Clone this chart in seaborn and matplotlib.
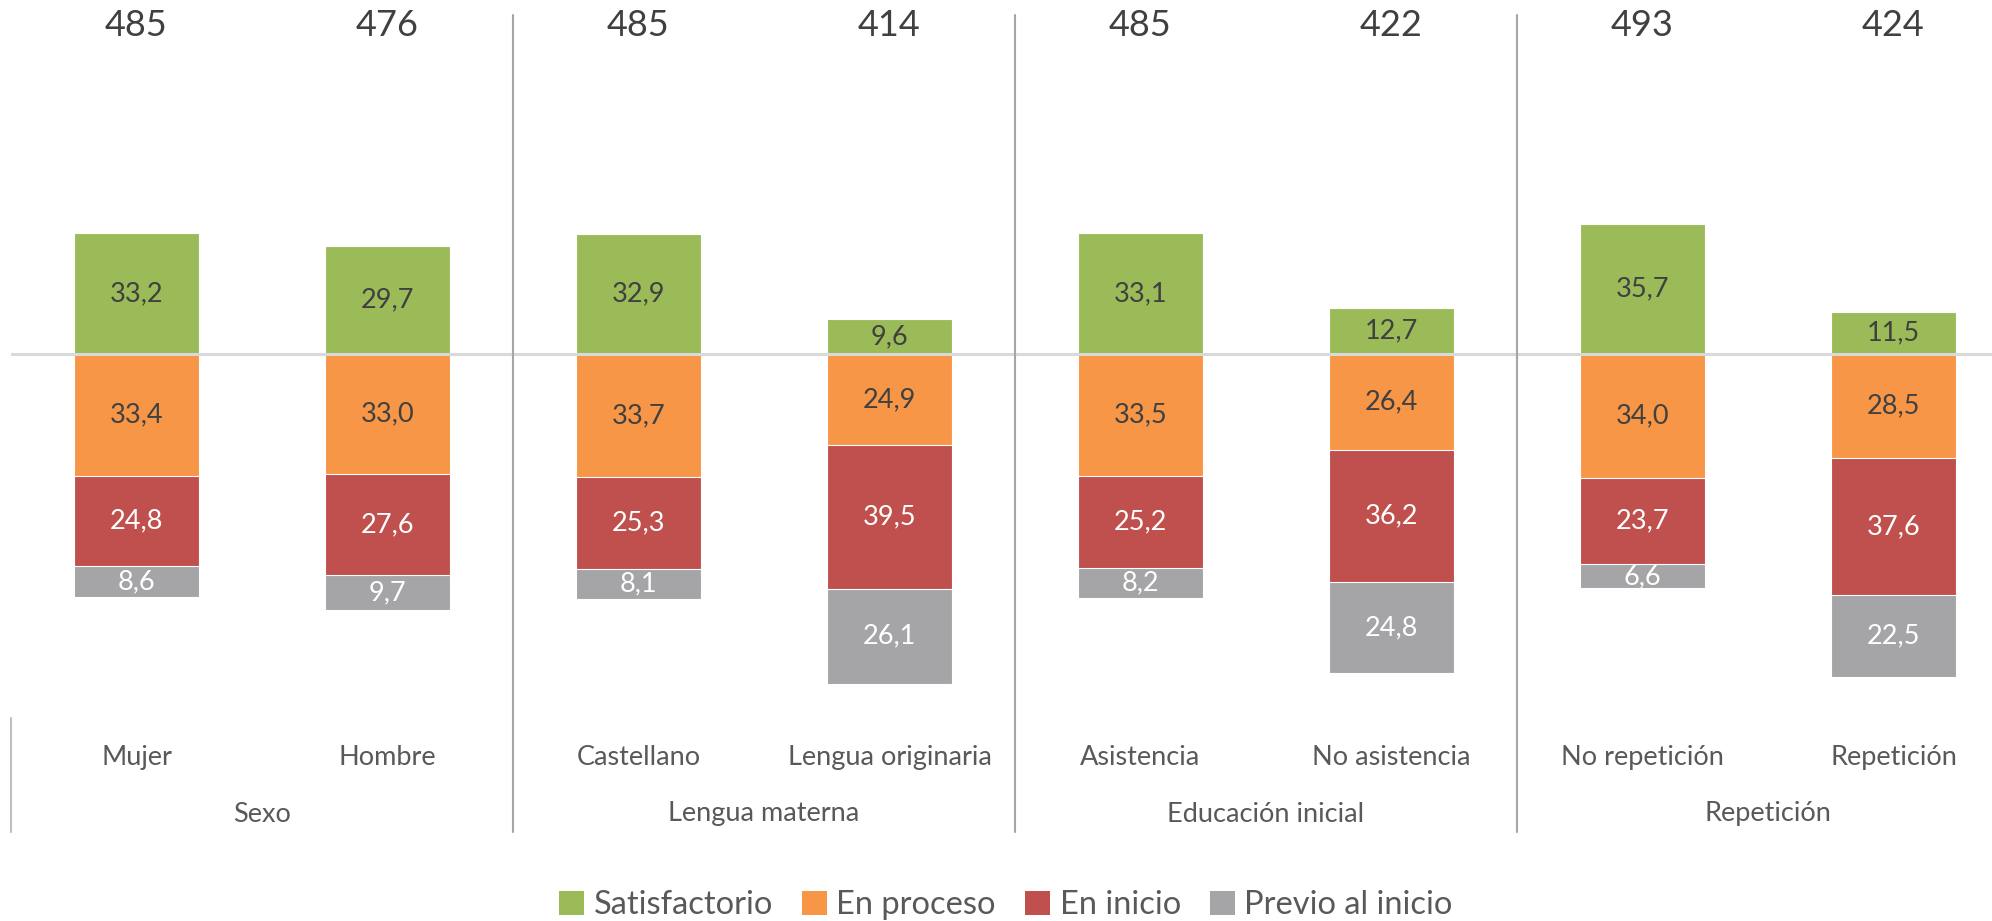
import matplotlib
matplotlib.use("Agg")
import matplotlib.pyplot as plt
import seaborn as sns
import pandas as pd
import numpy as np
from matplotlib.lines import Line2D
from matplotlib.patches import Patch
import matplotlib.transforms as mtransforms

categories = ["Mujer", "Hombre", "Castellano", "Lengua originaria",
              "Asistencia", "No asistencia", "No repetición", "Repetición"]
groups = ["Sexo", "Lengua materna", "Educación inicial", "Repetición"]
scores = [485, 476, 485, 414, 485, 422, 493, 424]
satisfactorio = [33.2, 29.7, 32.9, 9.6, 33.1, 12.7, 35.7, 11.5]
en_proceso = [33.4, 33.0, 33.7, 24.9, 33.5, 26.4, 34.0, 28.5]
en_inicio = [24.8, 27.6, 25.3, 39.5, 25.2, 36.2, 23.7, 37.6]
previo = [8.6, 9.7, 8.1, 26.1, 8.2, 24.8, 6.6, 22.5]
series_names = ["Satisfactorio", "En proceso", "En inicio", "Previo al inicio"]

colors = {"Satisfactorio": "#9BBB59", "En proceso": "#F79646",
          "En inicio": "#C0504D", "Previo al inicio": "#A5A5A7"}
text_colors = {"Satisfactorio": "#404040", "En proceso": "#404040",
               "En inicio": "white", "Previo al inicio": "white"}

sns.set_theme(style="white")
plt.rcParams["font.family"] = ["Lato", "DejaVu Sans"]

W, H = 1992, 921
fig = plt.figure(figsize=(W / 100, H / 100), dpi=100)
px_unit = 3.645
zero_px = 354
top_px, bot_px = 40, 700
ax = fig.add_axes([11 / W, (H - bot_px) / H, 2008 / W, (bot_px - top_px) / H])

df = pd.DataFrame({"cat": categories,
                   "sat": satisfactorio,
                   "pro": en_proceso,
                   "ini": en_inicio,
                   "pre": previo})
df["neg3"] = -(df["pro"] + df["ini"] + df["pre"])
df["neg2"] = -(df["pro"] + df["ini"])
df["neg1"] = -df["pro"]

bw = 0.5
common = dict(x="cat", order=categories, width=bw, ax=ax, edgecolor="white",
              linewidth=0.8, errorbar=None)
sns.barplot(data=df, y="neg3", color=colors["Previo al inicio"], saturation=1, **common)
sns.barplot(data=df, y="neg2", color=colors["En inicio"], saturation=1, **common)
sns.barplot(data=df, y="neg1", color=colors["En proceso"], saturation=1, **common)
sns.barplot(data=df, y="sat", color=colors["Satisfactorio"], saturation=1, **common)

ax.set_xlim(-0.5, 7.5)
ax.set_ylim(-(bot_px - zero_px) / px_unit, (zero_px - top_px) / px_unit)
ax.axhline(0, color="#D9D9D9", lw=2.2, zorder=5)

# segment labels
for i in range(len(categories)):
    segs = [("Satisfactorio", satisfactorio[i] / 2, satisfactorio[i]),
            ("En proceso", -en_proceso[i] / 2, en_proceso[i]),
            ("En inicio", -en_proceso[i] - en_inicio[i] / 2, en_inicio[i]),
            ("Previo al inicio", -en_proceso[i] - en_inicio[i] - previo[i] / 2, previo[i])]
    for name, ypos, val in segs:
        ax.text(i, ypos, f"{val:.1f}".replace(".", ","), ha="center", va="center",
                fontsize=19.5, color=text_colors[name], zorder=6)

trans = mtransforms.blended_transform_factory(ax.transData, fig.transFigure)
for i, s in enumerate(scores):
    fig.text(i, 1 - 25 / H, str(s), transform=trans, ha="center", va="center",
             fontsize=26, color="#404040")
    fig.text(i, 1 - 757 / H, categories[i], transform=trans, ha="center", va="center",
             fontsize=19.5, color="#595959")
for g, name in enumerate(groups):
    fig.text(2 * g + 0.5, 1 - 814 / H, name, transform=trans, ha="center", va="center",
             fontsize=19.5, color="#595959")

for xs in [1.5, 3.5, 5.5]:
    fig.add_artist(Line2D([xs, xs], [1 - 15 / H, 1 - 832 / H], transform=trans,
                          color="#A6A6A6", lw=1.5))
fig.add_artist(Line2D([-0.5, -0.5], [1 - 718 / H, 1 - 832 / H], transform=trans,
                      color="#BFBFBF", lw=1.5))

for sp in ax.spines.values():
    sp.set_visible(False)
ax.set_xticks([])
ax.set_yticks([])
ax.set_xlabel("")
ax.set_ylabel("")

handles = [Patch(facecolor=colors[n], edgecolor="none", label=n) for n in series_names]
fig.legend(handles=handles, loc="center", bbox_to_anchor=(0.505, 1 - 905 / H),
           ncol=4, frameon=False, fontsize=23.5, handlelength=0.75, handleheight=0.75,
           handletextpad=0.3, columnspacing=0.9, labelcolor="#595959")

fig.savefig("out.png", dpi=100)
